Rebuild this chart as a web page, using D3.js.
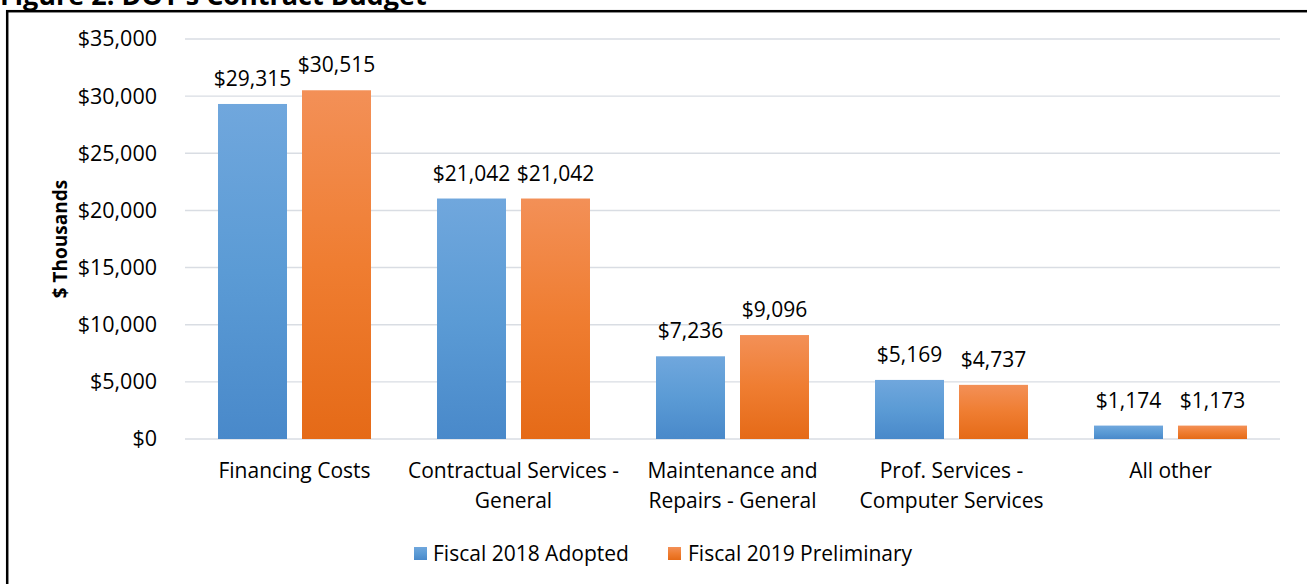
<!DOCTYPE html>
<html>
<head>
<meta charset="utf-8">
<script src="https://cdn.jsdelivr.net/npm/d3@7"></script>
<style>
html,body{margin:0;padding:0;background:#fff;}
svg{display:block;font-family:"Open Sans","Noto Sans",sans-serif;}
</style>
</head>
<body>
<svg id="chart" width="1307" height="584"></svg>
<script>
const categories = [
  ["Financing Costs"],
  ["Contractual Services -", "General"],
  ["Maintenance and", "Repairs - General"],
  ["Prof. Services -", "Computer Services"],
  ["All other"]
];
const seriesNames = ["Fiscal 2018 Adopted", "Fiscal 2019 Preliminary"];
const fy2018 = [29315, 21042, 7236, 5169, 1174];
const fy2019 = [30515, 21042, 9096, 4737, 1173];
const yTicks = [0, 5000, 10000, 15000, 20000, 25000, 30000, 35000];
const titleText = "Figure 2: DOT's Contract Budget";
const yTitle = "$ Thousands";

const svg = d3.select("#chart");
const W = 1307, H = 584;
const plot = {left: 185, right: 1280, top: 39, bottom: 439};
const FS = 21;

const defs = svg.append("defs");
const grads = [
  {id: "gBlue", stops: ["#70a7dd", "#5b9bd5", "#4989ca"]},
  {id: "gOrange", stops: ["#f39057", "#ef7d31", "#e56a17"]}
];
grads.forEach(g => {
  const lg = defs.append("linearGradient").attr("id", g.id)
    .attr("x1", 0).attr("y1", 0).attr("x2", 0).attr("y2", 1);
  g.stops.forEach((c, i) => lg.append("stop").attr("offset", i / (g.stops.length - 1)).attr("stop-color", c));
});
const fills = ["url(#gBlue)", "url(#gOrange)"];

// title (clipped at top, as in the reference)
svg.append("text").attr("x", 0).attr("y", 5)
  .attr("font-weight", "bold").attr("font-size", 27).attr("fill", "#000")
  .text(titleText);

// frame
svg.append("rect").attr("x", 7.2).attr("y", 11.2)
  .attr("width", W + 20).attr("height", H + 20)
  .attr("fill", "none").attr("stroke", "#000").attr("stroke-width", 2.5);

const y = d3.scaleLinear().domain([0, 35000]).range([plot.bottom, plot.top]);
const x0 = d3.scaleBand().domain(d3.range(categories.length)).range([plot.left, plot.right]).paddingInner(0).paddingOuter(0);
const x1 = d3.scaleBand().domain(d3.range(seriesNames.length)).range([0, x0.bandwidth()]).paddingInner(15/84).paddingOuter(0.393);

// gridlines
svg.append("g").selectAll("line").data(yTicks).join("line")
  .attr("x1", plot.left).attr("x2", plot.right)
  .attr("y1", d => y(d)).attr("y2", d => y(d))
  .attr("stroke", "#d9dde3").attr("stroke-width", 1.4);

// y axis labels
const yAxis = d3.axisLeft(y).tickValues(yTicks).tickSize(0).tickPadding(28).tickFormat(d3.format("$,.0f"));
const ga = svg.append("g").attr("transform", `translate(${plot.left},0)`).call(yAxis);
ga.select(".domain").remove();
ga.selectAll("text").attr("font-size", 21.5).attr("fill", "#000").attr("font-family", '"Open Sans","Noto Sans",sans-serif');

// y title
svg.append("text").attr("transform", `translate(67,${(plot.top + plot.bottom) / 2}) rotate(-90)`)
  .attr("text-anchor", "middle").attr("font-weight", "bold").attr("font-size", 19).attr("fill", "#000")
  .text(yTitle);

// bars
const data = [fy2018, fy2019];
const fmt = d3.format("$,");
data.forEach((vals, si) => {
  const g = svg.append("g");
  g.selectAll("rect").data(vals).join("rect")
    .attr("x", (d, i) => x0(i) + x1(si))
    .attr("width", x1.bandwidth())
    .attr("y", d => y(d))
    .attr("height", d => y(0) - y(d))
    .attr("fill", fills[si]);
  g.selectAll("text").data(vals).join("text")
    .attr("x", (d, i) => x0(i) + x1(si) + x1.bandwidth() / 2)
    .attr("y", d => y(d) - 18)
    .attr("text-anchor", "middle").attr("font-size", FS).attr("fill", "#000")
    .text(d => fmt(d));
});

// category labels
const cl = svg.append("g");
categories.forEach((lines, i) => {
  const t = cl.append("text").attr("text-anchor", "middle").attr("font-size", FS).attr("fill", "#000");
  lines.forEach((ln, j) => {
    t.append("tspan").attr("x", x0(i) + x0.bandwidth() / 2).attr("y", 478 + j * 30).text(ln);
  });
});

// legend
const legendItems = [{x: 414, tx: 433}, {x: 668, tx: 688}];
seriesNames.forEach((s, i) => {
  svg.append("rect").attr("x", legendItems[i].x).attr("y", 547).attr("width", 13).attr("height", 13)
    .attr("fill", fills[i]);
  svg.append("text").attr("x", legendItems[i].tx).attr("y", 561)
    .attr("font-size", FS).attr("fill", "#000").text(s);
});
</script>
</body>
</html>
